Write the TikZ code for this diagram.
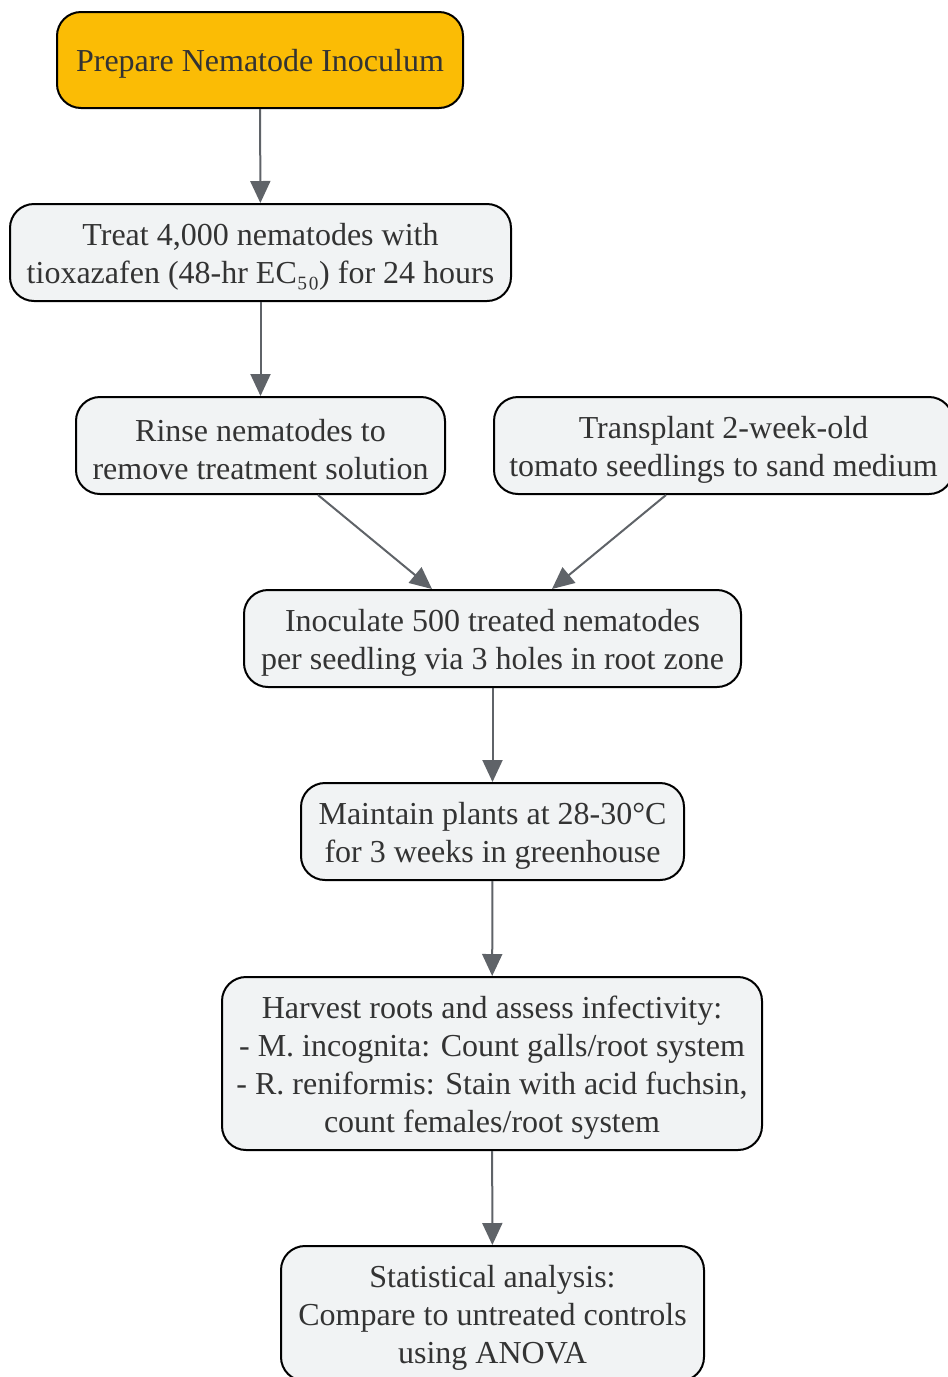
\documentclass[tikz,border=0pt]{standalone}
\usepackage{fontspec}
\setmainfont{Liberation Serif}
\usetikzlibrary{arrows.meta}
\definecolor{boxfill}{HTML}{F1F3F4}
\definecolor{startfill}{HTML}{FBBC05}
\definecolor{edgecol}{HTML}{5F6368}
\definecolor{txt}{HTML}{333333}
\begin{document}
\begin{tikzpicture}[x=1pt,y=-1pt,
  stepbox/.style={draw=black, line width=2pt, fill=boxfill, rounded corners=24pt, inner sep=0pt},
  steptext/.style={font=\fontsize{32}{38}\selectfont, text=txt, align=center, inner sep=0pt, yshift=-4pt},
  conn/.style={draw=edgecol, line width=2pt, -{Triangle[length=22pt,width=20pt]}}]
\useasboundingbox (0,0) rectangle (948,1377);
\clip (0,0) rectangle (948,1377);
\node[stepbox, fill=startfill, minimum width=406pt, minimum height=96pt,
  label={[steptext]center:{Prepare Nematode Inoculum}}] (prep) at (260,60) {};
\node[stepbox, minimum width=501pt, minimum height=97pt,
  label={[steptext]center:{Treat 4,000 nematodes with\\tioxazafen (48-hr EC₅₀) for 24 hours}}] (treat) at (260.5,252.5) {};
\node[stepbox, minimum width=369pt, minimum height=97pt,
  label={[steptext]center:{Rinse nematodes to\\remove treatment solution}}] (rinse) at (260.5,445.5) {};
\node[stepbox, minimum width=459pt, minimum height=97pt,
  label={[steptext]center:{Transplant 2-week-old\\tomato seedlings to sand medium}}] (trans) at (723.5,445.5) {};
\node[stepbox, minimum width=497pt, minimum height=97pt,
  label={[steptext]center:{Inoculate 500 treated nematodes\\per seedling via 3 holes in root zone}}] (inoc) at (492.5,638.5) {};
\node[stepbox, minimum width=383pt, minimum height=97pt,
  label={[steptext]center:{Maintain plants at 28-30°C\\for 3 weeks in greenhouse}}] (maint) at (492.5,831.5) {};
\node[stepbox, minimum width=540pt, minimum height=173pt,
  label={[steptext]center:{Harvest roots and assess infectivity:\\- M. incognita: Count galls/root system\\- R. reniformis: Stain with acid fuchsin,\\count females/root system}}] (harv) at (492,1063.5) {};
\node[stepbox, minimum width=423pt, minimum height=135pt,
  label={[steptext]center:{Statistical analysis:\\Compare to untreated controls\\using ANOVA}}] (stat) at (492.5,1313.5) {};
\draw[conn] (prep) -- (treat);
\draw[conn] (treat) -- (rinse);
\draw[conn] ([xshift=57.5pt]rinse.south) -- ([xshift=-60.5pt]inoc.north);
\draw[conn] ([xshift=-57.5pt]trans.south) -- ([xshift=59.5pt]inoc.north);
\draw[conn] (inoc) -- (maint);
\draw[conn] (maint) -- (harv);
\draw[conn] (harv) -- (stat);
\end{tikzpicture}
\end{document}
